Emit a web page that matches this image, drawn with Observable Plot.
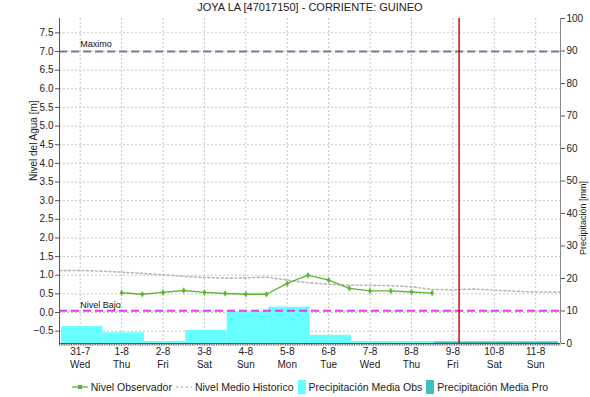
<!DOCTYPE html>
<html>
<head>
<meta charset="utf-8">
<script src="https://cdn.jsdelivr.net/npm/d3@7"></script>
<script src="https://cdn.jsdelivr.net/npm/@observablehq/plot@0.6"></script>
<style>
  html, body { margin: 0; padding: 0; background: #fff; }
  body { width: 590px; height: 397px; overflow: hidden; font-family: Arial, "Liberation Sans", sans-serif; color: #222; }
  #title { height: 14px; line-height: 14px; font-size: 11px; text-align: center; padding-left: 30px; box-sizing: border-box; width: 590px; color: #222; }
  #legend { height: 21px; display: flex; justify-content: center; align-items: center; font-size: 10.5px; padding-left: 30px; box-sizing: border-box; width: 590px; color: #222; white-space: nowrap; }
  #legend .item { display: flex; align-items: center; margin: 0 2px; }
  #legend svg { margin-right: 3px; }
</style>
</head>
<body>
<div id="title"></div>
<div id="chart"></div>
<div id="legend"></div>
<script>
// ---------- data ----------
const title = "JOYA LA [47017150] - CORRIENTE: GUINEO";
const dayLabels = ["31-7", "1-8", "2-8", "3-8", "4-8", "5-8", "6-8", "7-8", "8-8", "9-8", "10-8", "11-8"];
const weekdayLabels = ["Wed", "Thu", "Fri", "Sat", "Sun", "Mon", "Tue", "Wed", "Thu", "Fri", "Sat", "Sun"];

// observed level (days after 31-7, metres)
const obsDays = [1, 1.5, 2, 2.5, 3, 3.5, 4, 4.5, 5, 5.5, 6, 6.5, 7, 7.5, 8, 8.5];
const obsLevel = [0.53, 0.49, 0.54, 0.59, 0.54, 0.51, 0.49, 0.49, 0.78, 1.0, 0.87, 0.65, 0.58, 0.58, 0.55, 0.52];

// historic mean level
const histDays = [-0.5, 0, 0.5, 1, 1.5, 2, 2.5, 3, 3.5, 4, 4.5, 5, 5.5, 6, 6.5, 7, 7.5, 8, 8.5, 9, 9.5, 10, 10.5, 11, 11.6];
const histLevel = [1.12, 1.13, 1.11, 1.08, 1.05, 1.01, 0.97, 0.94, 0.92, 0.93, 0.95, 0.87, 0.8, 0.76, 0.73, 0.73, 0.72, 0.69, 0.62, 0.61, 0.63, 0.6, 0.57, 0.55, 0.55];

// precipitation (mm) per day
const precipObsDays = [0, 1, 2, 3, 4, 5, 6, 7, 8];
const precipObs = [5.2, 3.3, 0.6, 4.0, 9.8, 11.2, 2.5, 0.6, 0.6];
const precipProDays = [9, 10, 11];
const precipPro = [0.5, 0.5, 0.5];

const levelMax = 7.0;
const levelLow = 0.05;
const nowDay = 9.15;

const levelTicks = [-0.5, 0, 0.5, 1, 1.5, 2, 2.5, 3, 3.5, 4, 4.5, 5, 5.5, 6, 6.5, 7, 7.5];
const precipTicks = [0, 10, 20, 30, 40, 50, 60, 70, 80, 90, 100];

// ---------- scales ----------
const xDom = [-0.5, 11.6];
const yDom = [-0.831, 7.885];
const pDom = [0, 100];
const toY = d3.scaleLinear().domain(pDom).range(yDom);

const obsRows = obsDays.map((d, i) => ({x: d, y: obsLevel[i]}));
const histRows = histDays.map((d, i) => ({x: d, y: histLevel[i]}));
const barRows = (days, vals) => days.map((d, i) => ({
  x1: Math.max(d - 0.45, xDom[0]), x2: Math.min(d + 0.55, xDom[1]), v: vals[i]
}));
const obsBars = barRows(precipObsDays, precipObs);
const proBars = barRows(precipProDays, precipPro);
const hours = d3.range(xDom[0], xDom[1] + 1e-9, 1 / 24);
const days = d3.range(dayLabels.length);

document.getElementById("title").textContent = title;

const chart = Plot.plot({
  width: 590,
  height: 362,
  marginTop: 4,
  marginLeft: 59,
  marginRight: 30,
  marginBottom: 33,
  style: {fontFamily: "Arial, 'Liberation Sans', sans-serif", fontSize: "10px", color: "#222", overflow: "visible"},
  x: {domain: xDom, axis: null},
  y: {domain: yDom, axis: null},
  marks: [
    Plot.gridY(levelTicks, {stroke: "#c4c4c4", strokeOpacity: 1, strokeDasharray: "2,2"}),
    Plot.gridX(days, {stroke: "#c4c4c4", strokeOpacity: 1, strokeDasharray: "2,2"}),
    Plot.rect(obsBars, {x1: "x1", x2: "x2", y1: toY(0), y2: d => toY(d.v), fill: "#66ffff"}),
    Plot.rect(proBars, {x1: "x1", x2: "x2", y1: toY(0), y2: d => toY(d.v), fill: "#3fbfbf"}),
    Plot.ruleY([levelMax], {stroke: "#6f7d90", strokeWidth: 2, strokeDasharray: "8,4"}),
    Plot.ruleY([levelLow], {stroke: "#ee33ee", strokeWidth: 2, strokeDasharray: "8,4"}),
    Plot.text(["Maximo"], {x: 0, y: levelMax, text: d => d, textAnchor: "start", dy: -7, fontSize: 9, fill: "#111"}),
    Plot.text(["Nivel Bajo"], {x: 0, y: levelLow, text: d => d, textAnchor: "start", dy: -6, fontSize: 9, fill: "#111"}),
    Plot.line(histRows, {x: "x", y: "y", stroke: "#b8b8b8", strokeWidth: 1.6, strokeDasharray: "2,2.5"}),
    Plot.line(obsRows, {x: "x", y: "y", stroke: "#5cb531", strokeWidth: 1.3}),
    Plot.dot(obsRows, {x: "x", y: "y", r: 2, fill: "#5cb531", stroke: "none", symbol: "diamond"}),
    Plot.ruleX([nowDay], {stroke: "#c00000", strokeWidth: 1.4}),
    // frame
    Plot.ruleX([xDom[0]], {stroke: "#555", strokeWidth: 1}),
    Plot.ruleX([xDom[1]], {stroke: "#888", strokeWidth: 1}),
    Plot.ruleY([yDom[0]], {stroke: "#555", strokeWidth: 1}),
    // axes
    Plot.axisY(levelTicks, {anchor: "left", label: null, tickSize: 4, tickPadding: 2, tickFormat: d3.format(".1f"), stroke: "#555", fontSize: 10}),
    Plot.axisY(precipTicks.map(toY), {anchor: "right", label: null, tickSize: 4, tickPadding: 2, tickFormat: d => String(Math.round(toY.invert(d))), stroke: "#555", fontSize: 10}),
    Plot.axisX(hours, {anchor: "bottom", label: null, tickSize: 2.5, tickFormat: () => "", stroke: "#555", strokeOpacity: 0.9}),
    Plot.axisX(days, {anchor: "bottom", label: null, tickSize: 0, tickPadding: 4, tickFormat: i => dayLabels[i], fontSize: 10}),
    Plot.axisX(days, {anchor: "bottom", label: null, tickSize: 0, tickPadding: 17, tickFormat: i => weekdayLabels[i], fontSize: 10}),
    Plot.text(["Nivel del Agua [m]"], {frameAnchor: "left", dx: -26, rotate: -90, text: d => d, fontSize: 10, fill: "#222"}),
    Plot.text(["Precipitación [mm]"], {frameAnchor: "right", dx: 23, rotate: -90, text: d => d, fontSize: 9, fill: "#222"})
  ]
});
document.getElementById("chart").appendChild(chart);

// ---------- legend ----------
const legendItems = [
  {label: "Nivel Observador", kind: "line"},
  {label: "Nivel Medio Historico", kind: "dots"},
  {label: "Precipitación Media Obs", kind: "box", color: "#66ffff"},
  {label: "Precipitación Media Pro", kind: "box", color: "#3fbfbf"}
];
const legend = document.getElementById("legend");
for (const it of legendItems) {
  const div = document.createElement("div");
  div.className = "item";
  let icon;
  if (it.kind === "line") {
    icon = `<svg width="16" height="12"><line x1="0" y1="6" x2="16" y2="6" stroke="#5cb531" stroke-width="1.3"/><rect x="6" y="4" width="4" height="4" fill="#5cb531"/></svg>`;
  } else if (it.kind === "dots") {
    icon = `<svg width="16" height="12"><line x1="0" y1="6" x2="16" y2="6" stroke="#b8b8b8" stroke-width="1.5" stroke-dasharray="2,3"/></svg>`;
  } else {
    icon = `<svg width="8" height="14"><rect x="0" y="0" width="8" height="14" fill="${it.color}"/></svg>`;
  }
  div.innerHTML = icon + `<span>${it.label}</span>`;
  legend.appendChild(div);
}
</script>
</body>
</html>
